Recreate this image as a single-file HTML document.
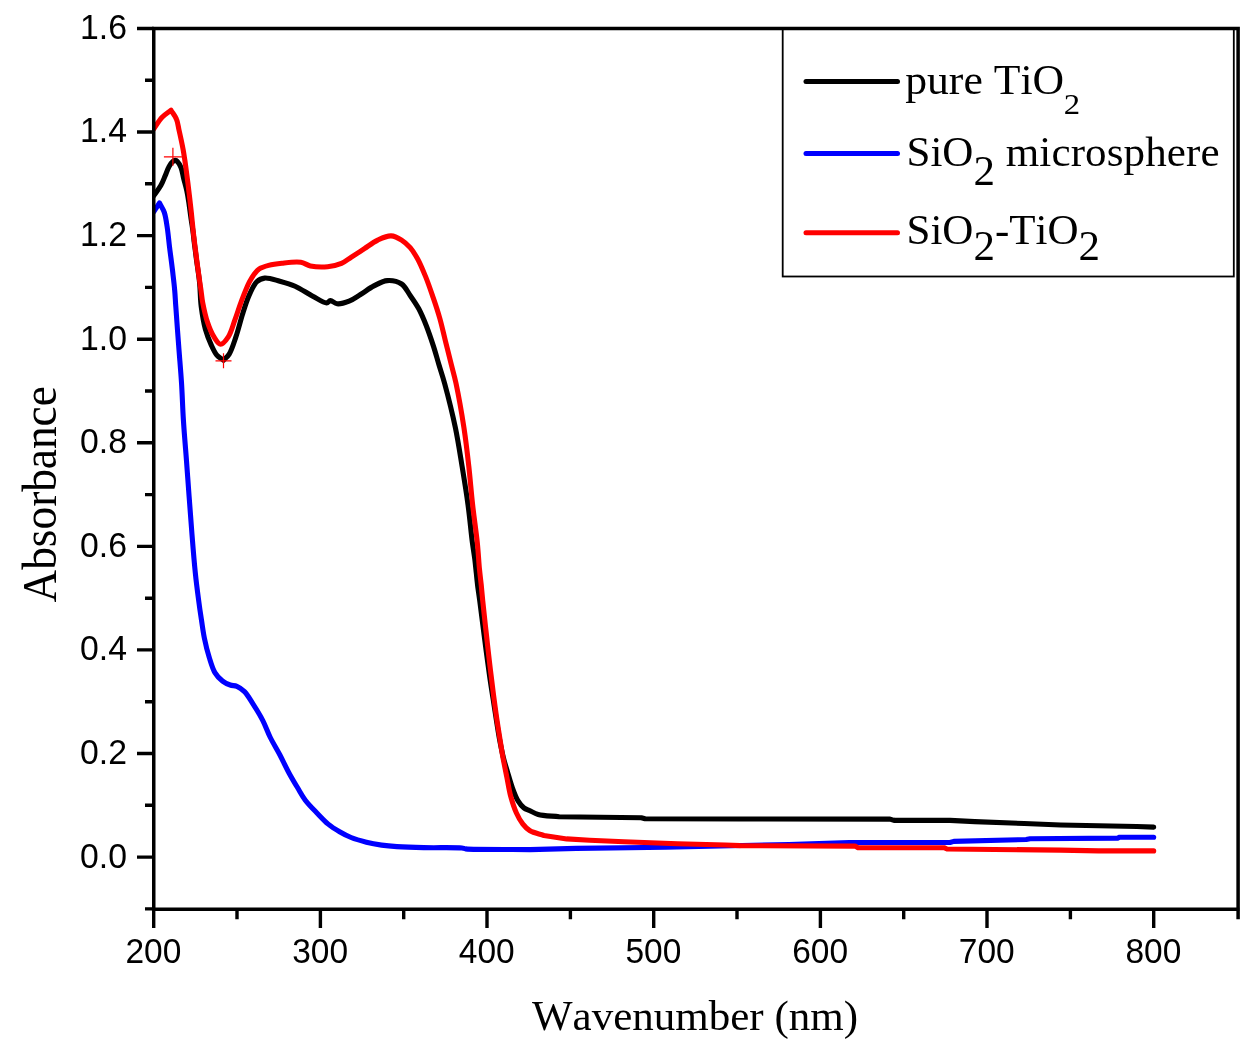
<!DOCTYPE html>
<html lang="en"><head><meta charset="utf-8"><title>UV-Vis absorbance spectra</title>
<style>html,body{margin:0;padding:0;background:#fff}svg{display:block}text{font-kerning:none}.ax{font-family:"Liberation Sans",Arial,sans-serif;font-size:34.6px;fill:#000}.ti{font-family:"Liberation Serif","Times New Roman",serif;fill:#000}</style></head><body>
<svg width="1259" height="1053" viewBox="0 0 1259 1053">
<rect width="1259" height="1053" fill="#fff"/>
<defs><clipPath id="pa"><rect x="153.75" y="28.5" width="1084.35" height="880.7"/></clipPath></defs>
<g clip-path="url(#pa)" fill="none" stroke-width="5.1" stroke-linejoin="round" stroke-linecap="round">
<path stroke="#000" d="M153.7 195.8C156.1 192.4 158.8 189.1 160.8 185.6C162.7 182.3 163.9 178.8 165.3 175.5C166.6 172.4 167.7 168.9 169.1 166.5C170.1 164.7 171.1 163.0 172.3 162.0C173.2 161.2 174.2 160.4 175.1 160.4C176.0 160.4 177.0 161.1 177.8 162.0C179.0 163.2 180.2 165.5 181.1 167.8C182.3 170.8 182.8 174.9 183.7 178.6C184.7 182.5 186.0 186.8 186.8 190.7C187.6 194.4 188.1 197.5 188.7 201.6C189.5 206.8 190.4 214.2 191.2 219.5C191.8 223.7 192.4 226.9 192.9 230.9C193.5 235.2 193.9 239.8 194.5 244.3C195.1 248.9 195.6 253.0 196.3 258.3C197.2 265.4 198.8 274.9 199.6 283.0C200.4 290.9 200.2 298.7 201.2 306.4C202.2 314.1 203.5 322.5 205.4 329.3C207.0 335.0 209.0 340.0 211.1 344.6C212.9 348.5 214.5 352.4 216.8 355.1C218.7 357.4 221.3 358.5 223.5 360.2C225.4 358.2 227.5 356.9 229.2 354.1C231.8 350.0 233.8 343.1 235.9 336.9C238.3 329.9 240.3 321.3 242.6 314.0C244.7 307.3 246.7 300.6 249.3 294.9C251.6 290.0 253.8 284.4 256.9 281.6C259.2 279.5 261.5 278.4 264.6 278.1C268.8 277.6 274.8 279.9 279.8 281.2C284.9 282.6 290.0 284.0 295.1 286.3C300.8 288.8 306.8 293.0 312.3 295.9C317.3 298.5 323.4 303.0 326.6 302.9C328.3 302.8 328.9 300.7 330.4 300.6C332.3 300.5 334.5 303.5 337.1 303.8C340.5 304.2 345.3 302.7 349.1 301.2C353.1 299.6 356.6 296.9 360.5 294.5C364.8 291.9 369.3 288.2 373.9 285.9C378.3 283.7 382.7 280.9 387.3 280.6C391.9 280.3 397.8 281.5 401.6 284.0C405.4 286.5 407.4 291.5 410.2 295.5C413.1 299.7 416.2 304.0 418.8 308.8C421.6 314.1 424.1 320.1 426.4 326.0C428.8 332.2 431.0 338.7 433.1 345.1C435.2 351.4 436.9 357.8 438.8 364.2C440.7 370.6 442.5 375.6 444.6 383.3C447.8 395.1 452.5 413.8 455.5 428.2C458.2 441.4 460.0 453.7 462.1 466.4C464.2 479.1 466.3 491.9 468.0 504.6C469.7 517.3 471.1 532.6 472.4 542.7C473.3 549.3 474.1 553.8 474.8 559.1C475.4 563.9 475.8 568.4 476.3 573.1C476.8 577.9 477.3 583.0 477.9 587.7C478.5 592.1 479.0 595.2 479.7 600.5C480.9 609.4 482.7 624.2 484.3 636.4C485.9 648.9 487.8 663.2 489.4 674.6C490.7 683.9 491.8 690.7 493.3 700.0C495.1 711.4 497.4 727.5 499.3 738.0C500.7 745.5 501.8 751.3 503.3 757.3C504.6 762.7 506.2 767.5 507.7 772.6C509.2 777.7 510.6 782.9 512.4 787.8C514.1 792.5 516.0 797.6 518.2 801.2C519.9 804.0 521.8 806.3 523.9 807.9C525.8 809.3 527.8 809.7 530.0 810.7C532.5 811.9 534.7 813.5 538.2 814.5C543.5 816.0 552.2 816.0 559.2 816.8L641.3 817.7L645.1 818.7L740.0 819.0L890.0 819.1L894.0 820.4L950.0 820.4L974.8 821.6L1024.3 823.5L1060.6 825.0L1136.8 826.5L1153.7 827.1"/>
<path stroke="#00f" d="M153.7 211.8C155.6 208.9 157.6 205.9 159.5 203.0C161.1 206.1 163.1 208.8 164.3 212.4C165.8 216.9 166.5 222.5 167.3 228.0C168.2 234.0 168.8 240.9 169.5 246.8C170.1 252.0 170.8 256.7 171.4 261.5C172.0 266.2 172.6 270.8 173.1 275.5C173.7 280.4 174.3 285.4 174.7 290.5C175.2 295.7 175.3 300.0 175.8 306.4C176.5 316.4 177.6 331.9 178.6 344.6C179.5 357.3 180.7 370.1 181.5 382.7C182.3 395.2 182.6 407.5 183.4 420.0C184.2 432.7 185.3 445.5 186.3 458.2C187.2 470.9 188.2 483.7 189.1 496.4C190.1 509.1 191.0 521.9 192.0 534.6C193.0 547.3 194.1 561.1 195.3 572.7C196.3 582.6 197.5 591.7 198.6 600.0C199.5 607.1 200.4 613.1 201.4 619.5C202.4 625.8 203.1 632.0 204.4 638.2C205.7 644.6 207.3 651.3 209.2 657.3C210.9 662.7 212.4 668.4 214.9 672.6C217.0 676.1 219.8 679.0 222.6 681.1C225.0 682.9 227.7 684.1 230.2 685.0C232.4 685.8 234.7 685.4 236.9 686.3C239.5 687.4 242.1 689.2 244.5 691.6C247.6 694.7 250.2 699.6 253.1 704.1C256.3 709.1 259.8 714.7 262.7 720.3C265.6 725.9 267.5 731.8 270.3 737.5C273.2 743.3 276.7 748.8 279.8 754.7C283.0 760.8 286.2 767.9 289.4 773.7C292.2 778.8 294.9 783.3 297.6 787.8C300.2 792.1 302.3 796.2 305.3 800.2C308.6 804.5 312.8 808.7 316.7 812.7C320.5 816.6 324.2 820.8 328.2 824.1C331.9 827.1 335.7 829.4 339.6 831.7C343.4 833.9 346.9 835.8 351.1 837.5C355.8 839.4 361.3 840.9 366.4 842.2C371.4 843.5 376.5 844.4 381.6 845.1C386.7 845.8 391.1 846.2 396.9 846.6C404.6 847.1 414.0 847.4 423.7 847.6C435.3 847.9 455.7 847.3 461.8 848.0C463.8 848.2 463.6 848.6 465.7 848.9C474.1 849.9 508.6 849.4 530.0 849.6L576.4 848.4L666.1 847.3L789.0 844.5L849.0 842.5L950.0 842.5L953.8 841.4L1026.2 839.5L1030.0 838.7L1117.7 838.1L1119.7 837.2L1153.7 837.2"/>
<path stroke="#f00" d="M153.7 129.0C156.5 125.1 159.0 120.5 162.1 117.3C164.8 114.4 168.0 112.6 171.0 110.2C172.8 113.2 175.2 115.9 176.5 119.2C177.9 122.5 178.2 126.5 179.0 130.0C179.8 133.4 180.5 136.7 181.2 140.0C181.9 143.3 182.6 146.7 183.2 150.0C183.8 153.3 184.3 156.7 184.8 160.0C185.3 163.3 185.7 166.4 186.2 170.0C186.7 174.0 187.3 178.4 187.9 183.0C188.5 188.1 189.2 193.9 189.8 199.0C190.3 203.7 190.8 207.6 191.3 212.4C191.9 218.1 192.6 225.4 193.2 231.0C193.7 235.7 194.2 239.6 194.7 244.0C195.3 248.6 195.9 253.5 196.5 258.0C197.0 262.2 197.6 266.2 198.1 270.0C198.6 273.5 199.0 276.6 199.5 280.0C200.0 283.6 200.6 287.3 201.1 291.0C201.6 294.8 201.9 298.3 202.7 302.6C203.8 308.2 205.3 315.7 207.3 321.6C209.1 327.1 211.4 332.9 214.0 336.9C216.0 340.0 218.3 344.1 220.6 344.2C223.0 344.3 226.1 340.2 228.3 336.9C231.2 332.6 232.8 325.6 235.0 319.7C237.3 313.5 239.2 306.9 241.6 300.6C244.0 294.4 246.8 287.1 249.3 282.2C251.1 278.8 252.7 276.2 254.5 273.8C256.0 271.8 257.2 270.1 259.3 268.8C261.8 267.2 265.2 266.3 268.6 265.4C272.6 264.3 277.1 263.7 281.9 263.2C287.6 262.6 295.6 261.5 300.8 262.3C304.6 262.9 306.7 265.1 310.4 265.9C315.2 266.9 322.2 267.2 327.6 266.7C332.5 266.2 337.4 265.1 341.5 263.4C345.1 261.9 347.6 259.5 351.0 257.3C355.1 254.7 359.9 251.6 364.4 248.7C368.8 245.8 373.1 242.3 377.7 240.1C382.0 238.1 386.9 235.7 391.1 235.9C394.8 236.0 398.4 238.1 401.6 240.1C404.8 242.1 407.6 244.7 410.2 247.7C413.1 251.0 415.4 254.9 417.8 259.2C420.6 264.3 423.0 270.3 425.5 276.4C428.2 283.0 430.7 290.4 433.1 297.4C435.5 304.4 437.8 311.2 439.8 318.4C441.9 325.8 443.6 333.7 445.5 341.3C447.4 348.9 449.4 356.9 451.2 364.2C452.9 370.9 454.3 375.6 456.0 383.3C458.5 395.1 461.8 413.8 464.0 428.2C466.0 441.4 467.4 453.7 468.8 466.4C470.2 479.1 471.2 491.9 472.6 504.6C474.0 517.3 476.1 531.2 477.3 542.7C478.3 552.2 478.7 561.0 479.4 568.6C480.0 574.6 480.6 579.3 481.2 584.6C481.7 589.9 482.1 594.1 482.7 600.5C483.7 610.1 485.2 624.2 486.6 636.4C488.0 648.9 489.4 661.9 491.0 674.6C492.5 687.3 494.3 701.3 495.9 712.7C497.2 722.1 498.6 730.3 499.8 738.2C500.9 745.0 501.8 750.9 502.9 757.3C504.1 763.7 505.4 770.0 506.7 776.4C508.0 782.8 508.9 789.4 510.5 795.5C512.1 801.4 514.0 807.7 516.3 812.7C518.2 817.0 520.4 820.9 522.9 824.1C525.0 826.8 527.0 829.0 530.0 830.8C533.7 833.0 539.3 833.9 543.9 835.5L566.8 838.9L589.7 840.2L624.1 841.8L677.6 843.7L725.3 845.0L740.0 845.6L855.0 846.1L858.0 847.7L944.0 847.7L947.0 849.0L1060.6 850.1L1098.7 850.9L1153.7 850.9"/>
</g>
<g stroke="#f00" stroke-width="1.2" fill="none">
<path d="M163.9 156.8H181.9M172.9 147.8V165.8"/>
<path d="M215.5 360.8H231.5M223.5 353.3V368.3"/>
</g>
<rect x="782.7" y="28.5" width="451.1" height="248" fill="none" stroke="#000" stroke-width="1.8"/>
<g stroke-width="5" stroke-linecap="round">
<line x1="806" y1="81.6" x2="897.5" y2="81.6" stroke="#000"/>
<line x1="806" y1="153.6" x2="897.5" y2="153.6" stroke="#00f"/>
<line x1="806" y1="232.8" x2="897.5" y2="232.8" stroke="#f00"/>
</g>
<g class="ti" font-size="43">
<text transform="translate(905.2 93.9) scale(1.016 1)">pure TiO</text><text transform="translate(1063.8 113.8) scale(1.11 1)" font-size="29.5">2</text>
<text x="906.5" y="165.8">SiO<tspan dy="19">2</tspan><tspan dy="-19" letter-spacing="0.12"> microsphere</tspan></text>
<text x="906.5" y="244.4">SiO<tspan dy="16">2</tspan><tspan dy="-16">-TiO</tspan><tspan dy="16">2</tspan></text>
</g>
<g stroke="#000" fill="none">
<path stroke-width="3.5" d="M153.75 26.7V911.0M151.95 28.5H1239.8999999999999M151.95 909.2H1239.8999999999999M1238.1 26.7V919.2"/>
<path stroke-width="3.4" d="M137 857.1H153.75M137 753.5H153.75M137 649.9H153.75M137 546.4H153.75M137 442.8H153.75M137 339.2H153.75M137 235.6H153.75M137 132.0H153.75M137 28.5H153.75M153.7 909.2V928M320.4 909.2V928M487.0 909.2V928M653.7 909.2V928M820.4 909.2V928M987.0 909.2V928M1153.7 909.2V928"/>
<path stroke-width="3.4" d="M145 908.9H153.75M145 805.3H153.75M145 701.7H153.75M145 598.2H153.75M145 494.6H153.75M145 391.0H153.75M145 287.4H153.75M145 183.8H153.75M145 80.3H153.75M237.0 909.2V919.2M403.7 909.2V919.2M570.4 909.2V919.2M737.0 909.2V919.2M903.7 909.2V919.2M1070.4 909.2V919.2"/>
</g>
<g class="ax" text-anchor="end">
<text transform="translate(127 867.5) scale(0.976 1)">0.0</text>
<text transform="translate(127 763.9) scale(0.976 1)">0.2</text>
<text transform="translate(127 660.3) scale(0.976 1)">0.4</text>
<text transform="translate(127 556.8) scale(0.976 1)">0.6</text>
<text transform="translate(127 453.2) scale(0.976 1)">0.8</text>
<text transform="translate(127 349.6) scale(0.976 1)">1.0</text>
<text transform="translate(127 246.0) scale(0.976 1)">1.2</text>
<text transform="translate(127 142.4) scale(0.976 1)">1.4</text>
<text transform="translate(127 38.9) scale(0.976 1)">1.6</text>
</g>
<g class="ax" text-anchor="middle">
<text transform="translate(153.4 963.1) scale(0.968 1)">200</text>
<text transform="translate(320.1 963.1) scale(0.968 1)">300</text>
<text transform="translate(486.7 963.1) scale(0.968 1)">400</text>
<text transform="translate(653.4 963.1) scale(0.968 1)">500</text>
<text transform="translate(820.1 963.1) scale(0.968 1)">600</text>
<text transform="translate(986.7 963.1) scale(0.968 1)">700</text>
<text transform="translate(1153.4 963.1) scale(0.968 1)">800</text>
</g>
<text class="ti" font-size="43" x="532" y="1030" textLength="326" lengthAdjust="spacingAndGlyphs">Wavenumber (nm)</text>
<text class="ti" font-size="45.3" transform="translate(55.6 602.5) rotate(-90) scale(1 1.09)">Absorbance</text>
</svg></body></html>
